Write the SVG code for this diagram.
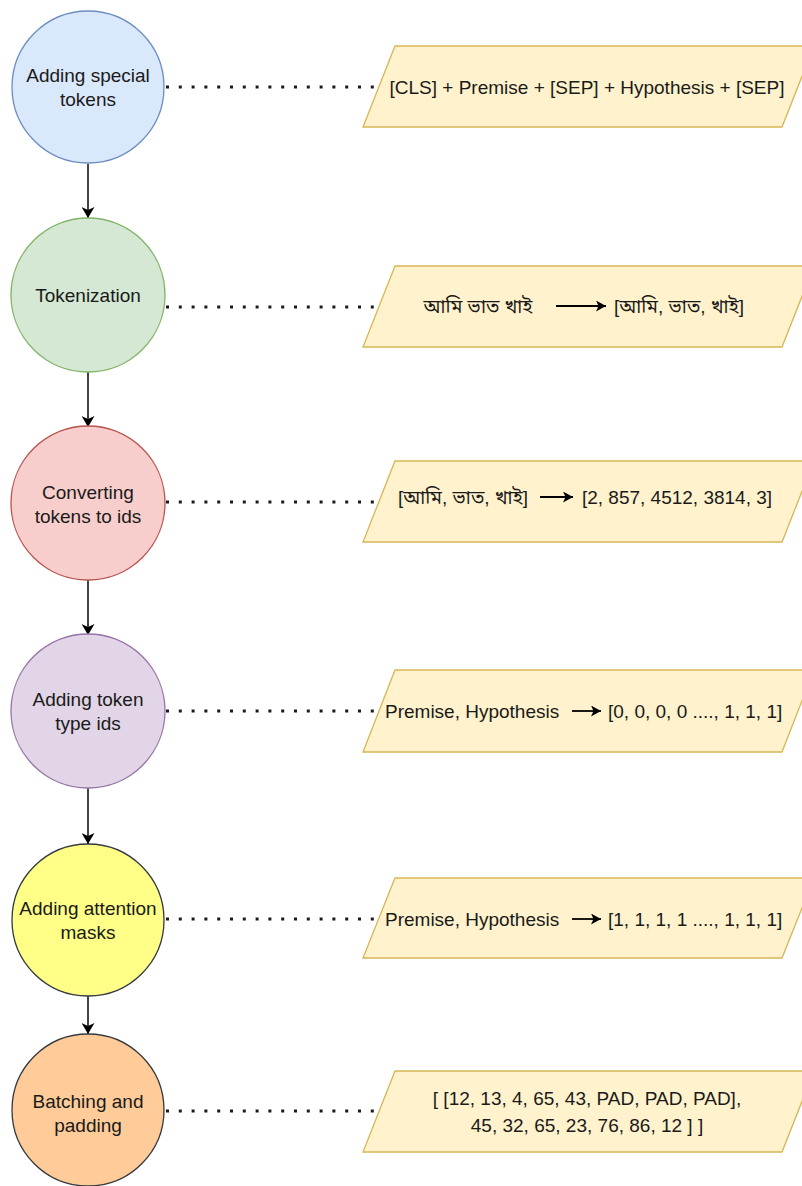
<svg xmlns="http://www.w3.org/2000/svg" width="802" height="1186" viewBox="0 0 802 1186">
<defs>
<style>
.circ{stroke-width:1.3}
.para{fill:#fff2cc;stroke:#d6b656;stroke-width:1.3}
.lbl{font-family:"Liberation Sans",Arial,sans-serif;font-size:19px;fill:#1a1a1a;text-anchor:middle}
.txt{font-family:"Liberation Sans","Noto Sans Bengali","Noto Serif Bengali","Lohit Bengali","FreeSans",Arial,sans-serif;font-size:19px;fill:#1a1a1a}
.flow{stroke:#444;stroke-width:2;fill:none}
.dot{stroke:#1a1a1a;stroke-width:3;stroke-dasharray:3 9.8;fill:none}
.mini{stroke:#000;stroke-width:1.8;fill:none}
</style>
<marker id="head" markerUnits="userSpaceOnUse" markerWidth="12" markerHeight="13" refX="11" refY="6.5" orient="auto" viewBox="0 0 12 13">
<path d="M0,0 L11,6.5 L0,13 L3,6.5 z" fill="#000"/>
</marker>
<marker id="mhead" markerUnits="userSpaceOnUse" markerWidth="11" markerHeight="11" refX="10" refY="5.5" orient="auto" viewBox="0 0 11 11">
<path d="M0,0 L10,5.5 L0,11 L2.5,5.5 z" fill="#000"/>
</marker>
</defs>
<rect width="802" height="1186" fill="#ffffff"/>

<g id="connectors">
<line class="flow" x1="88" y1="164" x2="88" y2="218" marker-end="url(#head)"/>
<line class="flow" x1="88" y1="372" x2="88" y2="427" marker-end="url(#head)"/>
<line class="flow" x1="88" y1="580" x2="88" y2="635" marker-end="url(#head)"/>
<line class="flow" x1="88" y1="788" x2="88" y2="844" marker-end="url(#head)"/>
<line class="flow" x1="88" y1="996" x2="88" y2="1034" marker-end="url(#head)"/>
<line class="dot" x1="166" y1="87" x2="378" y2="87"/>
<line class="dot" x1="166" y1="307" x2="378" y2="307"/>
<line class="dot" x1="166" y1="502" x2="378" y2="502"/>
<line class="dot" x1="166" y1="711" x2="378" y2="711"/>
<line class="dot" x1="166" y1="919" x2="378" y2="919"/>
<line class="dot" x1="166" y1="1111" x2="378" y2="1111"/>
</g>

<g id="node-special">
<circle class="circ" cx="88" cy="87" r="76" fill="#dae8fc" stroke="#6c8ebf"/>
<text class="lbl" x="88" y="82">Adding special</text>
<text class="lbl" x="88" y="106">tokens</text>
</g>
<g id="node-tokenization">
<circle class="circ" cx="88" cy="295" r="77" fill="#d5e8d4" stroke="#82b366"/>
<text class="lbl" x="88" y="302">Tokenization</text>
</g>
<g id="node-ids">
<circle class="circ" cx="88" cy="503" r="77" fill="#f8cecc" stroke="#b85450"/>
<text class="lbl" x="88" y="499">Converting</text>
<text class="lbl" x="88" y="523">tokens to ids</text>
</g>
<g id="node-typeids">
<circle class="circ" cx="88" cy="711" r="77" fill="#e1d5e7" stroke="#9673a6"/>
<text class="lbl" x="88" y="706">Adding token</text>
<text class="lbl" x="88" y="730">type ids</text>
</g>
<g id="node-masks">
<circle class="circ" cx="88" cy="920" r="76" fill="#ffff88" stroke="#36393d"/>
<text class="lbl" x="88" y="915">Adding attention</text>
<text class="lbl" x="88" y="939">masks</text>
</g>
<g id="node-batching">
<circle class="circ" cx="88" cy="1110" r="76" fill="#ffcc99" stroke="#36393d"/>
<text class="lbl" x="88" y="1108">Batching and</text>
<text class="lbl" x="88" y="1132">padding</text>
</g>

<g id="data-special">
<polygon class="para" points="395,46 814,46 782,127 363,127"/>
<text class="txt" x="587" y="94" text-anchor="middle">[CLS] + Premise + [SEP] + Hypothesis + [SEP]</text>
</g>
<g id="data-tokenization">
<polygon class="para" points="395,266 814,266 782,347 363,347"/>
<text class="txt" x="478" y="313" text-anchor="middle">আমি ভাত খাই</text>
<line class="mini" x1="556" y1="306" x2="606" y2="306" marker-end="url(#mhead)"/>
<text class="txt" x="679" y="313" text-anchor="middle">[আমি, ভাত, খাই]</text>
</g>
<g id="data-ids">
<polygon class="para" points="395,461 814,461 782,542 363,542"/>
<text class="txt" x="463" y="504" text-anchor="middle">[আমি, ভাত, খাই]</text>
<line class="mini" x1="540" y1="497" x2="573" y2="497" marker-end="url(#mhead)"/>
<text class="txt" x="677" y="504" text-anchor="middle">[2, 857, 4512, 3814, 3]</text>
</g>
<g id="data-typeids">
<polygon class="para" points="395,670 814,670 782,752 363,752"/>
<text class="txt" x="385" y="718">Premise, Hypothesis</text>
<line class="mini" x1="572" y1="711" x2="601" y2="711" marker-end="url(#mhead)"/>
<text class="txt" x="608" y="718">[0, 0, 0, 0 ...., 1, 1, 1]</text>
</g>
<g id="data-masks">
<polygon class="para" points="395,878 814,878 782,958 363,958"/>
<text class="txt" x="385" y="926">Premise, Hypothesis</text>
<line class="mini" x1="572" y1="919" x2="601" y2="919" marker-end="url(#mhead)"/>
<text class="txt" x="608" y="926">[1, 1, 1, 1 ...., 1, 1, 1]</text>
</g>
<g id="data-batching">
<polygon class="para" points="395,1071 814,1071 782,1152 363,1152"/>
<text class="txt" x="587" y="1105" text-anchor="middle">[ [12, 13, 4, 65, 43, PAD, PAD, PAD],</text>
<text class="txt" x="587" y="1132" text-anchor="middle">45, 32, 65, 23, 76, 86, 12 ] ]</text>
</g>
</svg>
